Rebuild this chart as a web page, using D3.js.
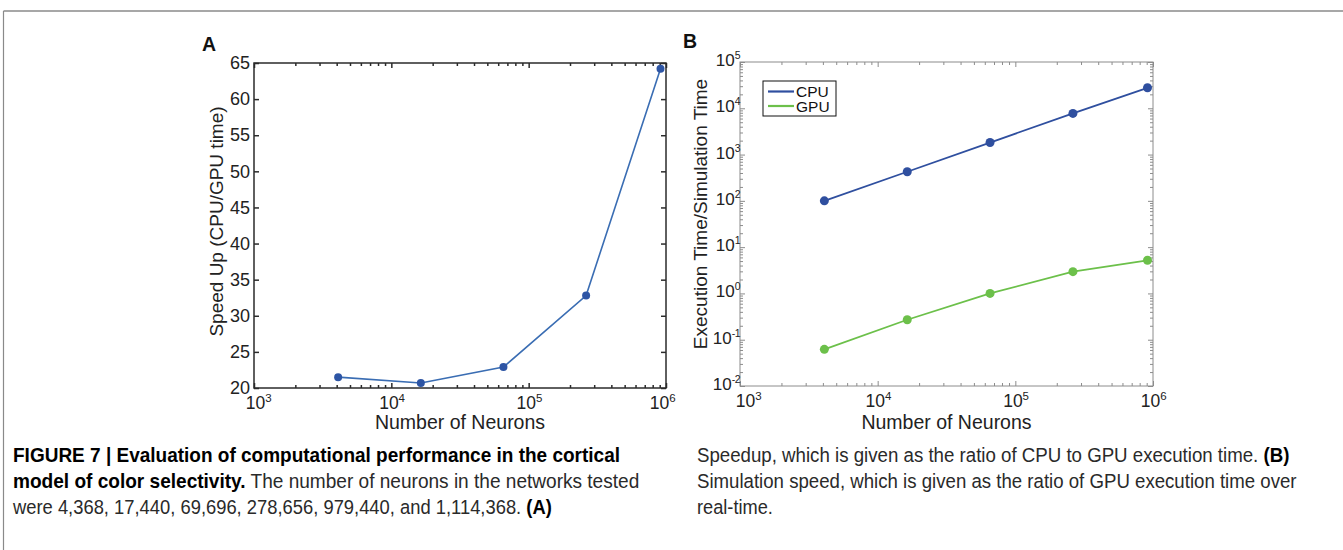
<!DOCTYPE html>
<html>
<head>
<meta charset="utf-8">
<script src="https://cdn.jsdelivr.net/npm/d3@7"></script>
<style>
  html, body { margin: 0; padding: 0; background: #fff; }
  svg { display: block; }
</style>
</head>
<body>
<svg id="fig" width="1343" height="550"></svg>
<script>
// Network sizes (number of neurons) used in both panels
const neurons = [4100, 16400, 65500, 262000, 912000];
// Panel A: speed-up of GPU over CPU
const speedUp = [21.5, 20.7, 22.9, 32.8, 64.2];
// Panel B: execution time relative to simulated time
const cpuTime = [100, 425, 1820, 7760, 27700];
const gpuTime = [0.062, 0.27, 1.0, 2.95, 5.2];
const seriesNames = ["CPU", "GPU"];
// Tick values
const speedTicks = [20, 25, 30, 35, 40, 45, 50, 55, 60, 65];
const neuronDecades = [1e3, 1e4, 1e5, 1e6];
const timeDecades = [1e-2, 1e-1, 1e0, 1e1, 1e2, 1e3, 1e4, 1e5];
// Caption text
const captionLeft = [
  [{t: "FIGURE 7 | Evaluation of computational performance in the cortical", b: true}],
  [{t: "model of color selectivity.", b: true}, {t: " The number of neurons in the networks tested", b: false}],
  [{t: "were 4,368, 17,440, 69,696, 278,656, 979,440, and 1,114,368. ", b: false}, {t: "(A)", b: true}]
];
const captionRight = [
  [{t: "Speedup, which is given as the ratio of CPU to GPU execution time. ", b: false}, {t: "(B)", b: true}],
  [{t: "Simulation speed, which is given as the ratio of GPU execution time over", b: false}],
  [{t: "real-time.", b: false}]
];

const svg = d3.select("#fig");
const FONT = "'Liberation Sans', Arial, Helvetica, sans-serif";

// Page frame
svg.append("line").attr("x1", 3.5).attr("x2", 1343).attr("y1", 11).attr("y2", 11)
  .attr("stroke", "#8a8a8a").attr("stroke-width", 1.6);
svg.append("line").attr("x1", 3.5).attr("x2", 3.5).attr("y1", 11).attr("y2", 550)
  .attr("stroke", "#8a8a8a").attr("stroke-width", 1.2);

// Minor log ticks (2..9 within each decade)
function minorTicks(decades) {
  const out = [];
  for (let i = 0; i < decades.length - 1; i++)
    for (let k = 2; k <= 9; k++) out.push(decades[i] * k);
  return out;
}

// "10" with a raised exponent
function expLabel(sel, v, baseSize, supSize) {
  const e = Math.round(Math.log10(v));
  sel.text(null);
  sel.append("tspan").text("10").attr("font-size", baseSize);
  sel.append("tspan").text(String(e)).attr("font-size", supSize).attr("dy", -7)
    .attr("letter-spacing", -0.5);
}

// Inward ticks on all four sides, drawn with d3 axes
function boxAxes(g, x, y, w, h, xVals, yVals, major, minor, color, width) {
  const mk = (axisFn, scale, vals, len, tr) => {
    const a = axisFn(scale).tickValues(vals).tickSizeInner(-len).tickSizeOuter(0).tickFormat("");
    const ag = g.append("g").attr("transform", tr).call(a);
    ag.select(".domain").remove();
    ag.selectAll("line").attr("stroke", color).attr("stroke-width", width);
    return ag;
  };
  mk(d3.axisBottom, x, xVals.major, major, `translate(0,${h})`);
  mk(d3.axisTop, x, xVals.major, major, `translate(0,0)`);
  if (xVals.minor.length) {
    mk(d3.axisBottom, x, xVals.minor, minor, `translate(0,${h})`);
    mk(d3.axisTop, x, xVals.minor, minor, `translate(0,0)`);
  }
  mk(d3.axisLeft, y, yVals.major, major, `translate(0,0)`);
  mk(d3.axisRight, y, yVals.major, major, `translate(${w},0)`);
  if (yVals.minor.length) {
    mk(d3.axisLeft, y, yVals.minor, minor, `translate(0,0)`);
    mk(d3.axisRight, y, yVals.minor, minor, `translate(${w},0)`);
  }
  g.append("rect").attr("width", w).attr("height", h).attr("fill", "none")
    .attr("stroke", color).attr("stroke-width", width);
}

// ---------- Panel A ----------
{
  const L = 254, T = 63, W = 412, H = 325;
  const g = svg.append("g").attr("transform", `translate(${L},${T})`);
  const x = d3.scaleLog().domain([1e3, 1e6]).range([0, W]);
  const y = d3.scaleLinear().domain([20, 65]).range([H, 0]);

  boxAxes(g, x, y, W, H, {major: neuronDecades, minor: minorTicks(neuronDecades)},
    {major: speedTicks, minor: []}, 5, 3, "#2b2b2b", 1.5);

  // y tick labels
  g.append("g").attr("transform", "translate(-4,0)")
    .call(d3.axisLeft(y).tickValues(speedTicks).tickSize(0).tickPadding(0))
    .call(s => s.select(".domain").remove())
    .selectAll("text").attr("font-family", FONT).attr("font-size", 18).attr("fill", "#222");

  // x tick labels (10^n)
  const xl = g.append("g").attr("transform", `translate(0,${H})`)
    .call(d3.axisBottom(x).tickValues(neuronDecades).tickSize(0).tickPadding(21))
    .call(s => s.select(".domain").remove());
  xl.selectAll("text").attr("font-family", FONT).attr("fill", "#222").attr("dy", 0)
    .each(function (d, i) {
      const s = d3.select(this);
      expLabel(s, d, 17.5, 11.5);
      if (i === 0) s.attr("dx", 4);
      if (i === neuronDecades.length - 1) s.attr("dx", -4);
    });

  const line = d3.line().x((d, i) => x(neurons[i])).y(d => y(d));
  g.append("path").datum(speedUp).attr("d", line).attr("fill", "none")
    .attr("stroke", "#3a6db3").attr("stroke-width", 1.6);
  g.selectAll("circle.a").data(speedUp).join("circle").attr("class", "a")
    .attr("cx", (d, i) => x(neurons[i])).attr("cy", d => y(d)).attr("r", 4)
    .attr("fill", "#2d55a5");

  svg.append("text").attr("x", L + W / 2).attr("y", 429).attr("text-anchor", "middle")
    .attr("font-family", FONT).attr("font-size", 19.5).attr("fill", "#222").text("Number of Neurons");
  svg.append("text").attr("transform", `translate(223,${221.5}) rotate(-90)`).attr("text-anchor", "middle")
    .attr("font-family", FONT).attr("font-size", 19).attr("fill", "#222").text("Speed Up (CPU/GPU time)");
  svg.append("text").attr("x", 202).attr("y", 51).attr("font-family", FONT).attr("font-weight", "bold")
    .attr("font-size", 19.5).attr("fill", "#111").text("A");
}

// ---------- Panel B ----------
{
  const L = 740, T = 62, W = 413, H = 324;
  const g = svg.append("g").attr("transform", `translate(${L},${T})`);
  const x = d3.scaleLog().domain([1e3, 1e6]).range([0, W]);
  const y = d3.scaleLog().domain([1e-2, 1e5]).range([H, 0]);

  boxAxes(g, x, y, W, H, {major: neuronDecades, minor: minorTicks(neuronDecades)},
    {major: timeDecades, minor: minorTicks(timeDecades)}, 5, 3, "#8c8c8c", 1);

  // y tick labels (10^n), right-aligned against the axis
  const yl = g.append("g")
    .call(d3.axisLeft(y).tickValues(timeDecades).tickSize(0).tickPadding(0))
    .call(s => s.select(".domain").remove());
  yl.selectAll("text").attr("font-family", FONT).attr("fill", "#222").attr("dy", "0.35em")
    .each(function (d) { expLabel(d3.select(this), d, 17, 10.5); });

  const xl = g.append("g").attr("transform", `translate(0,${H})`)
    .call(d3.axisBottom(x).tickValues(neuronDecades).tickSize(0).tickPadding(21))
    .call(s => s.select(".domain").remove());
  xl.selectAll("text").attr("font-family", FONT).attr("fill", "#222").attr("dy", 0)
    .each(function (d, i) {
      const s = d3.select(this);
      expLabel(s, d, 17.5, 11.5);
      if (i === 0) s.attr("dx", 8);
    });

  const colors = {CPU: "#2f4f9f", GPU: "#6cc04a"};
  const series = [{name: seriesNames[0], values: cpuTime}, {name: seriesNames[1], values: gpuTime}];
  const line = d3.line().x((d, i) => x(neurons[i])).y(d => y(d));
  series.forEach(s => {
    g.append("path").datum(s.values).attr("d", line).attr("fill", "none")
      .attr("stroke", colors[s.name]).attr("stroke-width", 1.8);
    g.selectAll(null).data(s.values).join("circle")
      .attr("cx", (d, i) => x(neurons[i])).attr("cy", d => y(d)).attr("r", 4.5)
      .attr("fill", colors[s.name]);
  });

  // legend
  const lg = svg.append("g").attr("transform", "translate(763,81)");
  lg.append("rect").attr("width", 73).attr("height", 35).attr("fill", "#fff")
    .attr("stroke", "#111").attr("stroke-width", 1);
  series.forEach((s, i) => {
    const yy = 10.5 + i * 14.5;
    lg.append("line").attr("x1", 5).attr("x2", 31).attr("y1", yy).attr("y2", yy)
      .attr("stroke", colors[s.name]).attr("stroke-width", 2.2);
    lg.append("text").attr("x", 33).attr("y", yy).attr("dy", "0.36em")
      .attr("font-family", FONT).attr("font-size", 15.5).attr("fill", "#111").text(s.name);
  });

  svg.append("text").attr("x", L + W / 2).attr("y", 429).attr("text-anchor", "middle")
    .attr("font-family", FONT).attr("font-size", 19.5).attr("fill", "#222").text("Number of Neurons");
  svg.append("text").attr("transform", `translate(707,${214}) rotate(-90)`).attr("text-anchor", "middle")
    .attr("font-family", FONT).attr("font-size", 19).attr("fill", "#222").text("Execution Time/Simulation Time");
  svg.append("text").attr("x", 683).attr("y", 48).attr("font-family", FONT).attr("font-weight", "bold")
    .attr("font-size", 19.5).attr("fill", "#111").text("B");
}

// ---------- Caption ----------
const CAP_FONT = "'Liberation Sans Narrow', 'Liberation Sans', Arial, sans-serif";
function captionBlock(lines, x0, widths) {
  lines.forEach((parts, i) => {
    const t = svg.append("text").attr("font-family", CAP_FONT).attr("font-size", 19.5)
      .attr("fill", "#222").attr("x", 0).attr("y", 0);
    parts.forEach(p => t.append("tspan").text(p.t)
      .attr("font-weight", p.b ? "bold" : "normal").attr("fill", p.b ? "#000" : "#2a2a2a"));
    const natural = t.node().getComputedTextLength();
    const sx = widths[i] / natural;
    t.attr("transform", `translate(${x0},${462 + i * 26}) scale(${sx},1)`);
  });
}
captionBlock(captionLeft, 13, [607, 627, 539]);
captionBlock(captionRight, 697, [593, 600, 76]);
</script>
</body>
</html>
